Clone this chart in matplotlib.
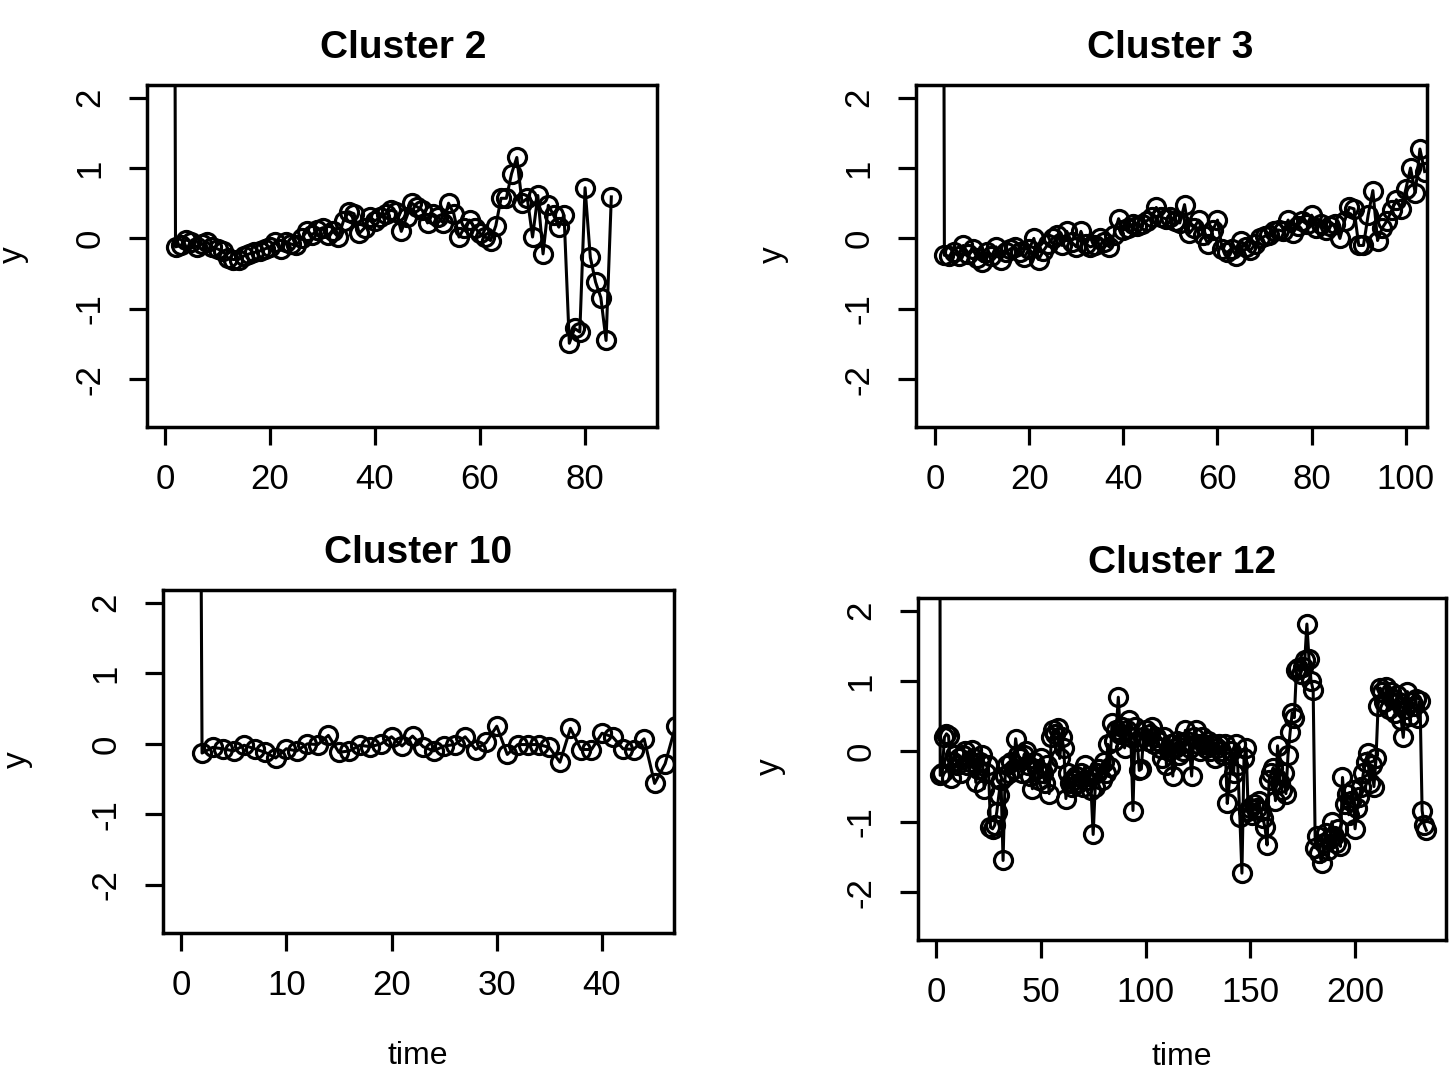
import numpy as np
import matplotlib
matplotlib.use("Agg")
import matplotlib.pyplot as plt

plt.rcParams['font.family'] = ['Liberation Sans', 'DejaVu Sans']

# ---------------- data ----------------
# first value of each series is far above the plotted range (off-scale)
cluster2_y = [30.0,
    -0.12, -0.10, -0.02, -0.05, -0.12, -0.08, -0.05, -0.12, -0.15,
    -0.18, -0.28, -0.30, -0.30, -0.25, -0.22, -0.20, -0.18, -0.15, -0.12,
    -0.05, -0.15, -0.05, -0.08, -0.10, 0.00, 0.10, 0.05, 0.12, 0.15,
    0.05, 0.10, 0.02, 0.25, 0.38, 0.35, 0.07, 0.15, 0.30, 0.25,
    0.30, 0.35, 0.40, 0.38, 0.10, 0.30, 0.50, 0.45, 0.40, 0.22,
    0.35, 0.30, 0.22, 0.50, 0.35, 0.02, 0.15, 0.26, 0.15, 0.07,
    0.02, -0.03, 0.18, 0.57, 0.57, 0.92, 1.15, 0.51, 0.57, 0.02,
    0.61, -0.22, 0.47, 0.33, 0.16, 0.33, -1.49, -1.28, -1.33, 0.72,
    -0.27, -0.62, -0.84, -1.45, 0.59]

cluster3_y = [30.0,
    -0.24, -0.25, -0.20, -0.25, -0.10, -0.22, -0.15, -0.28, -0.33,
    -0.20, -0.25, -0.12, -0.30, -0.20, -0.15, -0.12, -0.20, -0.26, -0.15,
    0.00, -0.30, -0.18, -0.08, 0.00, 0.05, -0.10, 0.10, -0.05, -0.12,
    0.10, -0.08, -0.12, -0.10, 0.00, -0.05, -0.12, 0.05, 0.28, 0.12,
    0.15, 0.20, 0.18, 0.20, 0.25, 0.30, 0.44, 0.30, 0.28, 0.30,
    0.25, 0.22, 0.48, 0.07, 0.15, 0.26, 0.05, -0.08, 0.12, 0.26,
    -0.15, -0.20, -0.15, -0.25, -0.03, -0.12, -0.17, -0.08, 0.00, 0.03,
    0.05, 0.10, 0.12, 0.10, 0.26, 0.07, 0.18, 0.25, 0.20, 0.33,
    0.15, 0.20, 0.12, 0.18, 0.20, 0.00, 0.25, 0.44, 0.42, -0.10,
    -0.10, 0.33, 0.68, -0.03, 0.15, 0.25, 0.40, 0.55, 0.42, 0.70,
    1.00, 0.65, 1.27, 0.95]

cluster10_y = [30.0,
    -0.13, -0.05, -0.07, -0.10, -0.02, -0.07, -0.12, -0.20, -0.07,
    -0.10, 0.00, -0.01, 0.12, -0.12, -0.10, -0.02, -0.04, 0.00, 0.10,
    -0.03, 0.11, -0.04, -0.10, -0.03, -0.01, 0.10, -0.08, 0.02, 0.25,
    -0.15, -0.01, -0.01, -0.01, -0.05, -0.26, 0.22, -0.08, -0.08, 0.15,
    0.10, -0.07, -0.08, 0.07, -0.56, -0.28, 0.26]

cluster12_y = [30.0,
    -0.34, -0.30, 0.20, 0.25, 0.22, -0.38, -0.15, -0.05, -0.20,
    -0.10, -0.30, -0.05, 0.00, -0.20, -0.15, 0.02, -0.10, -0.44, -0.25,
    -0.15, -0.05, -0.53, -0.30, -0.20, -1.08, -1.10, -1.05, -0.86, -0.62,
    -0.40, -1.55, -0.35, -0.20, -0.30, -0.15, -0.25, 0.18, -0.05, -0.10,
    -0.30, -0.05, 0.00, -0.20, -0.35, -0.53, -0.15, -0.25, -0.40, -0.10,
    -0.30, -0.45, -0.20, -0.60, 0.20, 0.30, 0.25, 0.33, -0.10, 0.20,
    0.05, -0.67, -0.30, -0.45, -0.50, -0.40, -0.35, -0.45, -0.30, -0.50,
    -0.20, -0.40, -0.35, -0.55, -1.18, -0.50, -0.30, -0.25, -0.40, -0.15,
    -0.30, 0.10, -0.22, 0.40, 0.15, 0.30, 0.77, 0.25, 0.35, 0.05,
    0.30, 0.45, 0.20, -0.84, 0.35, 0.15, -0.27, -0.25, 0.20, 0.30,
    0.15, 0.25, 0.35, 0.10, 0.20, 0.15, 0.05, -0.10, 0.20, -0.20,
    0.00, 0.10, -0.35, 0.05, 0.15, -0.05, 0.10, 0.00, 0.30, 0.15,
    0.05, -0.35, 0.20, 0.30, 0.10, 0.00, 0.20, 0.10, 0.05, 0.15,
    0.00, 0.10, -0.10, 0.05, 0.10, 0.00, -0.05, 0.10, -0.74, -0.44,
    0.00, -0.30, 0.10, -0.20, -0.93, -1.73, -0.10, 0.05, -0.85, -0.80,
    -0.90, -0.75, -0.80, -0.70, -0.85, -0.95, -1.08, -1.33, -0.40, -0.30,
    -0.23, -0.70, 0.08, -0.45, -0.55, -0.30, -0.60, -0.05, 0.27, 0.55,
    0.48, 1.15, 1.18, 1.10, 1.20, 1.30, 1.81, 1.32, 1.00, 0.87,
    -1.37, -1.20, -1.45, -1.58, -1.30, -1.16, -1.40, -1.25, -1.00, -1.20,
    -1.30, -1.10, -1.35, -0.37, -0.75, -0.60, -0.90, -0.70, -0.55, -1.10,
    -0.80, -0.65, -0.50, -0.30, -0.15, -0.02, -0.45, -0.20, -0.50, -0.10,
    0.65, 0.90, 0.85, 0.70, 0.92, 0.60, 0.85, 0.75, 0.55, 0.80,
    0.70, 0.45, 0.20, 0.60, 0.85, 0.50, 0.70, 0.65, 0.75, 0.48,
    0.72, -0.84, -1.05, -1.12]

titles = ["Cluster 2", "Cluster 3", "Cluster 10", "Cluster 12"]
series = [cluster2_y, cluster3_y, cluster10_y, cluster12_y]
xticks = [[0, 20, 40, 60, 80], [0, 20, 40, 60, 80, 100],
          [0, 10, 20, 30, 40], [0, 50, 100, 150, 200]]
yticks = [-2, -1, 0, 1, 2]

# ---------------- layout (pixels) ----------------
W, H = 1452, 1073
# box: left, right, top, bottom in pixels
boxes = [(147, 657, 85, 427), (916, 1427, 85, 427),
         (163, 674, 590, 933), (918, 1446, 598, 940)]
xlims = [(-3.43, 93.7), (-4.03, 104.5), (-1.71, 46.84), (-8.6, 243.4)]
ylim = (-2.68, 2.18)
title_pos = [(403, 48), (1170, 48), (418, 553), (1182, 563)]
ylab_pos = [(13, 255), (773, 255), (17, 760), (770, 767)]
xlab_pos = [None, None, (418, 1056), (1182, 1057)]

fig = plt.figure(figsize=(W / 100, H / 100), dpi=100)
fig.patch.set_facecolor('white')

def fx(px):
    return px / W

def fy(py):
    return 1 - py / H

for i in range(4):
    l, r, t, b = boxes[i]
    ax = fig.add_axes([fx(l), fy(b), (r - l) / W, (b - t) / H])
    y = series[i]
    x = np.arange(1, len(y) + 1)
    ax.plot(x, y, color='black', lw=2.2, marker='o', ms=13,
            mfc='none', mec='black', mew=2.3)
    ax.set_xlim(*xlims[i])
    ax.set_ylim(*ylim)
    ax.set_xticks(xticks[i])
    ax.set_yticks(yticks)
    ax.set_yticklabels([str(v) for v in yticks], rotation=90, va='center')
    for sp in ax.spines.values():
        sp.set_linewidth(2.5)
    ax.tick_params(axis='both', direction='out', length=13, width=2.3,
                   labelsize=25, colors='black')
    ax.tick_params(axis='x', pad=13)
    ax.tick_params(axis='y', pad=16)
    fig.text(fx(title_pos[i][0]), fy(title_pos[i][1]), titles[i],
             fontsize=28, fontweight='bold', ha='center', va='center')
    fig.text(fx(ylab_pos[i][0]), fy(ylab_pos[i][1]), 'y', fontsize=24,
             rotation=90, ha='center', va='center')
    if xlab_pos[i] is not None:
        fig.text(fx(xlab_pos[i][0]), fy(xlab_pos[i][1]), 'time',
                 fontsize=23, ha='center', va='center')

fig.savefig('out.png', dpi=100, facecolor='white')
